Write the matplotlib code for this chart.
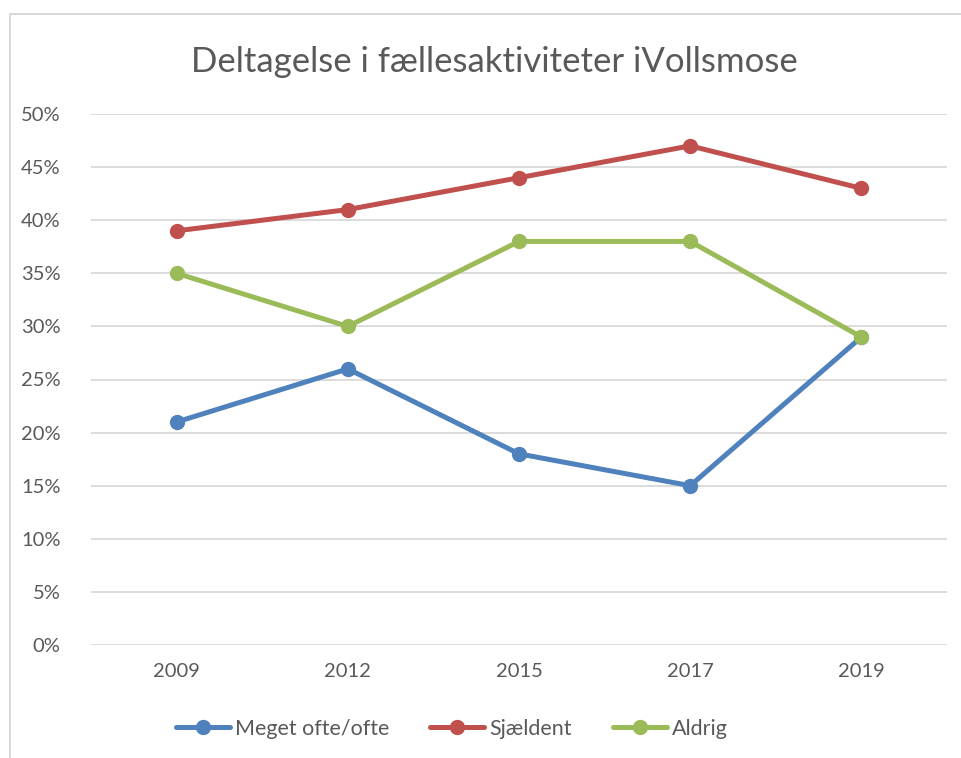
import matplotlib
matplotlib.use("Agg")
import matplotlib.pyplot as plt
from matplotlib.patches import Rectangle
from matplotlib.ticker import FuncFormatter, MultipleLocator

years = ["2009", "2012", "2015", "2017", "2019"]
meget_ofte = [21, 26, 18, 15, 29]
sjaeldent = [39, 41, 44, 47, 43]
aldrig = [35, 30, 38, 38, 29]
series_names = ["Meget ofte/ofte", "Sjældent", "Aldrig"]
colors = ["#4F81BD", "#C0504D", "#9BBB59"]

plt.rcParams['font.family'] = ['Lato', 'DejaVu Sans']
text_color = "#595959"

fig = plt.figure(figsize=(9.62, 7.58), dpi=100)
fig.patches.append(Rectangle((10/962, -0.1), 1.2, (758-14)/758 + 0.1,
                             transform=fig.transFigure, fill=False,
                             edgecolor="#D9D9D9", linewidth=1.5))
ax = fig.add_axes([91/962, 113/758, 856/962, 531/758])

x = list(range(len(years)))
for vals, name, c in zip([meget_ofte, sjaeldent, aldrig], series_names, colors):
    ax.plot(x, vals, color=c, linewidth=3.6, marker='o', markersize=10,
            label=name, solid_capstyle='round', zorder=3)

ax.set_xlim(-0.5, len(years) - 0.5)
ax.set_ylim(0, 50)
ax.yaxis.set_major_locator(MultipleLocator(5))
ax.yaxis.set_major_formatter(FuncFormatter(lambda v, p: f"{int(v)}%"))
ax.set_xticks(x)
ax.set_xticklabels(years)
ax.grid(axis='y', color="#D9D9D9", linewidth=1.3, zorder=0)
for s in ax.spines.values():
    s.set_visible(False)
ax.tick_params(axis='both', length=0, labelsize=14.5, colors=text_color)
ax.tick_params(axis='y', pad=22)
ax.tick_params(axis='x', pad=13)

fig.text(494/962, 1 - 62/758, "Deltagelse i fællesaktiviteter iVollsmose",
         ha='center', va='center', fontsize=25, color=text_color)

leg = fig.legend(loc='center', bbox_to_anchor=(452/962, 1 - 729/758), ncol=3,
                 frameon=False, fontsize=15.5, handlelength=2.5,
                 columnspacing=1.9, handletextpad=0.25)
for t in leg.get_texts():
    t.set_color(text_color)

fig.savefig("out.png", dpi=100)
